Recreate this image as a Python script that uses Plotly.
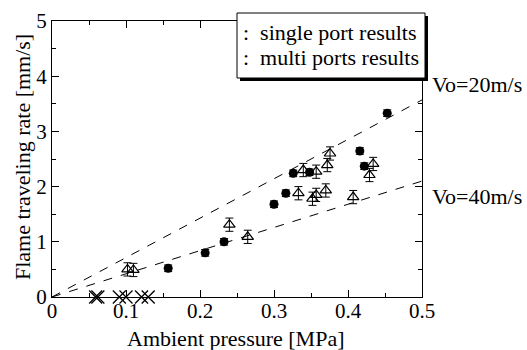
import plotly.graph_objects as go

# Data
single_x = [0.157, 0.207, 0.2325, 0.300, 0.316, 0.326, 0.348, 0.416, 0.422, 0.453]
single_y = [0.52, 0.80, 1.00, 1.68, 1.88, 2.24, 2.26, 2.645, 2.37, 3.33]
single_err = [0.06] * len(single_x)

multi_x = [0.102, 0.110, 0.2397, 0.2645, 0.333, 0.3396, 0.352, 0.357, 0.357, 0.370, 0.372, 0.3757, 0.407, 0.429, 0.434]
multi_y = [0.50, 0.49, 1.31, 1.09, 1.88, 2.30, 1.78, 1.85, 2.27, 1.93, 2.39, 2.60, 1.81, 2.21, 2.41]
multi_err = [0.12] * len(multi_x)

noflame_x = [0.059, 0.062, 0.091, 0.100, 0.121, 0.130]
noflame_y = [0, 0, 0, 0, 0, 0]

vo20_x = [0, 0.5]
vo20_y = [0, 3.57]
vo40_x = [0, 0.5]
vo40_y = [0, 2.10]

x_tickvals = [0, 0.1, 0.2, 0.3, 0.4, 0.5]
x_ticktext = ["0", "0.1", "0.2", "0.3", "0.4", "0.5"]
y_tickvals = [0, 1, 2, 3, 4, 5]
y_ticktext = ["0", "1", "2", "3", "4", "5"]

FONT = "'Times New Roman', 'Liberation Serif', 'DejaVu Serif', serif"

fig = go.Figure()
fig.add_trace(go.Scatter(x=vo20_x, y=vo20_y, mode="lines",
                         line=dict(color="black", width=1, dash="dash"), showlegend=False))
fig.add_trace(go.Scatter(x=vo40_x, y=vo40_y, mode="lines",
                         line=dict(color="black", width=1, dash="dash"), showlegend=False))
fig.add_trace(go.Scatter(x=single_x, y=single_y, mode="markers",
                         marker=dict(symbol="circle", size=9, color="black"),
                         error_y=dict(type="data", array=single_err, color="black", thickness=1, width=4),
                         showlegend=False))
fig.add_trace(go.Scatter(x=multi_x, y=multi_y, mode="markers",
                         marker=dict(symbol="triangle-up-open", size=10, color="black",
                                     line=dict(width=1.2, color="black")),
                         error_y=dict(type="data", array=multi_err, color="black", thickness=1, width=4),
                         showlegend=False))
fig.add_trace(go.Scatter(x=noflame_x, y=noflame_y, mode="markers", cliponaxis=False,
                         marker=dict(symbol="x-thin-open", size=13, color="black",
                                     line=dict(width=1.3, color="black")),
                         showlegend=False))

axis_common = dict(showline=True, linecolor="black", linewidth=1, mirror="allticks",
                   ticks="inside", ticklen=7, tickcolor="black", tickwidth=1,
                   showgrid=False, zeroline=False, automargin=False,
                   tickfont=dict(family=FONT, size=21, color="black"))

fig.update_xaxes(range=[0, 0.5], tickmode="array", tickvals=x_tickvals, ticktext=x_ticktext, tickangle=0,
                 ticklabelstandoff=-5,
                 minor=dict(dtick=0.05, ticks="inside", ticklen=4, tickcolor="black"),
                 **axis_common)
fig.update_yaxes(range=[0, 5], tickmode="array", tickvals=y_tickvals, ticktext=y_ticktext,
                 minor=dict(dtick=0.5, ticks="inside", ticklen=4, tickcolor="black"),
                 **axis_common)

# legend box with drop shadow (pixel -> paper conversion)
L, R, T, B = 52, 422, 21, 297
def px(xp):
    return (xp - L) / (R - L)
def py(yp):
    return (B - yp) / (B - T)

shapes = [
    dict(type="rect", xref="paper", yref="paper", x0=px(240), x1=px(428), y0=py(81), y1=py(16),
         fillcolor="black", line=dict(width=0), layer="above"),
    dict(type="rect", xref="paper", yref="paper", x0=px(237), x1=px(425), y0=py(78), y1=py(13),
         fillcolor="white", line=dict(width=1, color="black"), layer="above"),
]
fig.update_layout(shapes=shapes)

tf = dict(family=FONT, size=22, color="black")
annotations = [
    dict(text=":\u00a0\u00a0single port results", xref="paper", yref="paper", x=px(241), y=py(33),
         xanchor="left", yanchor="middle", showarrow=False, font=tf),
    dict(text=":\u00a0\u00a0multi ports results", xref="paper", yref="paper", x=px(241), y=py(57),
         xanchor="left", yanchor="middle", showarrow=False, font=tf),
    dict(text="Vo=20m/s", xref="paper", yref="paper", x=px(430), y=py(84),
         xanchor="left", yanchor="middle", showarrow=False, font=tf),
    dict(text="Vo=40m/s", xref="paper", yref="paper", x=px(430), y=py(197),
         xanchor="left", yanchor="middle", showarrow=False, font=tf),
    dict(text="Ambient pressure [MPa]", xref="paper", yref="paper", x=px(236), y=py(338),
         xanchor="center", yanchor="middle", showarrow=False, font=tf),
    dict(text="Flame traveling rate [mm/s]", xref="paper", yref="paper", x=px(22), y=py(157),
         xanchor="center", yanchor="middle", textangle=-90, showarrow=False, font=tf),
]
fig.update_layout(annotations=annotations)

fig.update_layout(width=527, height=350, margin=dict(l=L, r=527 - R, t=T, b=350 - B),
                  plot_bgcolor="white", paper_bgcolor="white", showlegend=False,
                  font=dict(family=FONT))

fig.write_html("out.html")
